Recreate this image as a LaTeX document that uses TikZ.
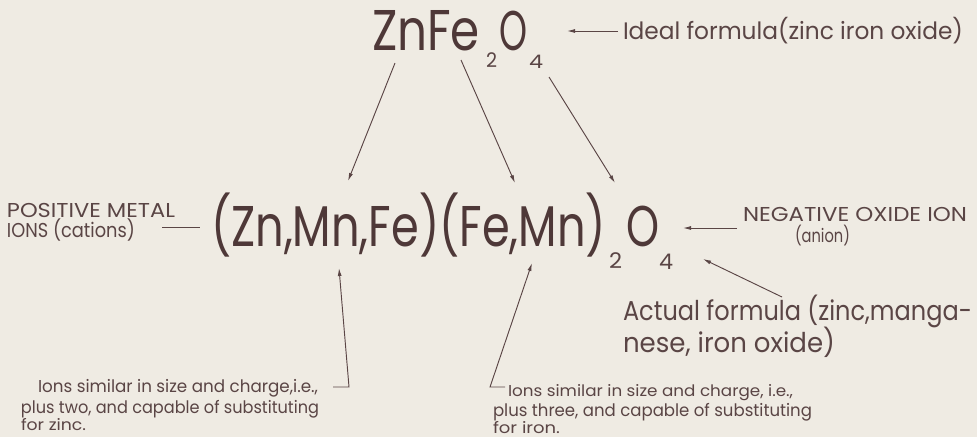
\documentclass[tikz,border=0pt]{standalone}
\usepackage{fontspec}
\setmainfont{Poppins}
\usepackage{graphicx}
\usetikzlibrary{arrows.meta}
\definecolor{bgc}{HTML}{EFEBE3}
\definecolor{ink}{HTML}{5A4545}
\definecolor{inkd}{HTML}{4E3838}
\newlength\pxu
\setlength\pxu{0.75pt}
\newcommand\fitt[3]{\resizebox{#1\pxu}{#2\pxu}{\smash{#3}\vphantom{H}}}
\tikzset{
  txt/.style={inner sep=0pt, outer sep=0pt, anchor=base west, text=ink},
  big/.style={txt, text=inkd},
  arr/.style={draw=ink, line width=0.7pt, -{Latex[length=6pt,width=3pt]}},
  lnk/.style={draw=ink, line width=0.7pt}
}
\begin{document}
\begin{tikzpicture}[x=0.75pt,y=-0.75pt]
\fill[bgc] (0,0) rectangle (977,437);
\useasboundingbox (0,0) rectangle (977,437);
% top formula
\node[big] (zf) at (372,50) {\fitt{108}{40}{ZnFe}};
\node[txt] (t2) at (486,67) {\fitt{11}{14}{2}};
\node[big] (tO) at (499,50) {\fitt{28}{39}{O}};
\node[txt] (t4) at (529,68) {\fitt{14}{13}{4}};
\node[txt] (ideal) at (623,39.3) {\fitt{340}{16.6}{Ideal formula(zinc iron oxide)}};
\coordinate (ia) at (618,31);
\coordinate (ib) at (567,31);
\draw[arr] (ia) -- (ib);
% middle formula
\node[big] (mf) at (211,246) {\fitt{395}{40}{(Zn,Mn,Fe)(Fe,Mn)}};
\node[txt] (m2) at (609,268) {\fitt{13}{15}{2}};
\node[big] (mO) at (626,246) {\fitt{33}{40}{O}};
\node[txt] (m4) at (659,269) {\fitt{14}{15}{4}};
% top-to-middle arrows
\coordinate (a1s) at (395,63);  \coordinate (a1e) at (348,181);
\coordinate (a2s) at (461,60);  \coordinate (a2e) at (515,183);
\coordinate (a3s) at (549,77);  \coordinate (a3e) at (615,183);
\draw[arr] (a1s) -- (a1e);
\draw[arr] (a2s) -- (a2e);
\draw[arr] (a3s) -- (a3e);
% left label
\node[txt] (pm1) at (7,217) {\fitt{168}{14}{POSITIVE METAL}};
\node[txt] (pm2) at (7,237) {\fitt{128}{14}{IONS (cations)}};
\coordinate (pla) at (162,227); \coordinate (plb) at (200,227);
\draw[lnk] (pla) -- (plb);
% right label
\node[txt] (ng1) at (743,221) {\fitt{224}{14}{NEGATIVE OXIDE ION}};
\node[txt] (ng2) at (795,242) {\fitt{55}{13}{(anion)}};
\coordinate (nga) at (737,228); \coordinate (ngb) at (683,228);
\draw[arr] (nga) -- (ngb);
% actual formula
\node[txt] (ac1) at (623,320) {\fitt{349}{19}{Actual formula (zinc,manga-}};
\node[txt] (ac2) at (623,352) {\fitt{212}{19}{nese, iron oxide)}};
\coordinate (aca) at (782,297); \coordinate (acb) at (703,259);
\draw[arr] (aca) -- (acb);
% lower left note
\node[txt] (l1) at (38,392) {\fitt{280}{12}{Ions similar in size and charge,i.e.,}};
\node[txt] (l2) at (21,413) {\fitt{298}{12}{plus two, and capable of substituting}};
\node[txt] (l3) at (21,430) {\fitt{65}{11}{for zinc.}};
\coordinate (lla) at (333,387); \coordinate (llb) at (349,387); \coordinate (llc) at (339,268);
\draw[arr] (lla) -- (llb) -- (llc);
% lower right note
\node[txt] (r1) at (508,396) {\fitt{285}{11}{Ions similar in size and charge, i.e.,}};
\node[txt] (r2) at (493,416) {\fitt{319}{12}{plus three, and capable of substituting}};
\node[txt] (r3) at (493,433) {\fitt{67}{11}{for iron.}};
\coordinate (rla) at (505,387); \coordinate (rlb) at (490,387); \coordinate (rlc) at (532,263);
\draw[arr] (rla) -- (rlb) -- (rlc);
\end{tikzpicture}
\end{document}
